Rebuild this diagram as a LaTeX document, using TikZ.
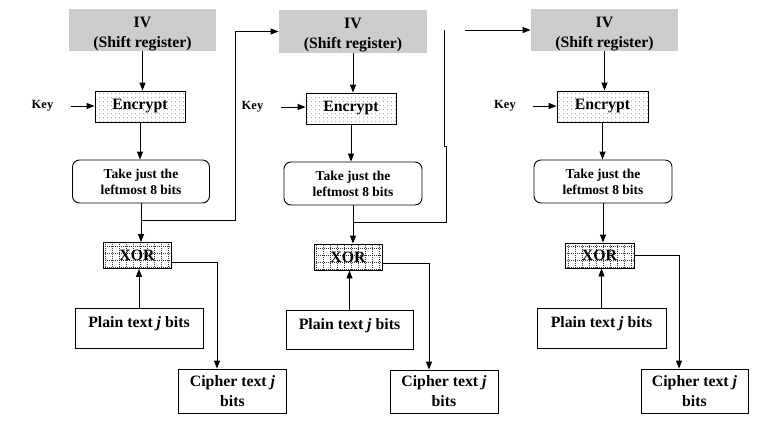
\documentclass[tikz,border=0pt]{standalone}
\usepackage{fontspec}
\setmainfont{Liberation Serif}
\usetikzlibrary{arrows.meta,patterns.meta}
\begin{document}
\begin{tikzpicture}[x=1pt,y=-1pt,
  line width=0.9pt,
  arr/.style={-{Triangle[length=8pt,width=6pt]}},
  ivbox/.style={draw=none,fill=gray!40,minimum width=147pt,minimum height=42pt,inner sep=0pt},
  ivtext/.style={align=center,font=\fontsize{15.8}{20}\selectfont\bfseries,inner sep=0pt},
  encbox/.style={draw,minimum width=90pt,minimum height=31pt,inner sep=0pt,
    pattern={Dots[distance=4pt,radius=0.45pt]},pattern color=black!80,
    font=\fontsize{15.8}{18}\selectfont\bfseries},
  takebox/.style={draw,rounded corners=7pt,minimum width=137pt,minimum height=43pt,inner sep=0pt,
    align=center,font=\fontsize{13.5}{16}\selectfont\bfseries},
  xorbox/.style={draw,minimum width=68pt,minimum height=26pt,inner sep=0pt,
    font=\fontsize{15.8}{18}\selectfont\bfseries,
    path picture={\draw[line width=0.5pt,dash pattern=on 0.6pt off 1.4pt,black!80] (path picture bounding box.south west) grid[step=7pt] (path picture bounding box.north east);}},
  plainbox/.style={draw,minimum width=128pt,minimum height=40pt,inner sep=0pt},
  plaintext/.style={inner sep=0pt,font=\fontsize{15.8}{18}\selectfont\bfseries},
  cipherbox/.style={draw,minimum width=108pt,minimum height=44pt,inner sep=0pt,
    align=center,font=\fontsize{15.8}{20}\selectfont\bfseries},
  keytext/.style={inner sep=0pt,font=\fontsize{12.5}{14}\selectfont\bfseries}
]
\useasboundingbox (0,0) rectangle (758,429);

% ---------- column 1
\node[ivbox,label={[ivtext,yshift=-4pt]center:IV\\(Shift register)}] (iv1) at (142.5,30) {};
\node[encbox] (enc1) at (140,106.5) {Encrypt};
\node[keytext] (key1) at (42.5,106) {Key};
\node[takebox] (take1) at (141,181.5) {Take just the\\leftmost 8 bits};
\node[xorbox] (xor1) at (137,255.5) {XOR};
\node[plainbox,label={[plaintext,yshift=4pt]center:Plain text \textit{j} bits}] (plain1) at (139,328) {};
\node[cipherbox] (cipher1) at (232.5,391) {Cipher text \textit{j}\\bits};

% ---------- column 2
\node[ivbox,minimum width=148pt,minimum height=43pt,label={[ivtext,yshift=-4pt]center:IV\\(Shift register)}] (iv2) at (353,31.5) {};
\node[encbox] (enc2) at (351,108.5) {Encrypt};
\node[keytext] (key2) at (252.5,107) {Key};
\node[takebox,minimum width=138pt] (take2) at (353,183.5) {Take just the\\leftmost 8 bits};
\node[xorbox] (xor2) at (348,257) {XOR};
\node[plainbox,minimum width=127pt,minimum height=39pt,label={[plaintext,yshift=4pt]center:Plain text \textit{j} bits}] (plain2) at (349.5,329.5) {};
\node[cipherbox,minimum height=43pt] (cipher2) at (444,391.5) {Cipher text \textit{j}\\bits};

% ---------- column 3
\node[ivbox,label={[ivtext,yshift=-4pt]center:IV\\(Shift register)}] (iv3) at (604.5,30) {};
\node[encbox,minimum width=91pt] (enc3) at (602.5,106.5) {Encrypt};
\node[keytext] (key3) at (505,106) {Key};
\node[takebox,minimum width=138pt] (take3) at (603,181.5) {Take just the\\leftmost 8 bits};
\node[xorbox,minimum width=69pt,minimum height=25pt] (xor3) at (599.5,255.5) {XOR};
\node[plainbox,minimum width=129pt,label={[plaintext,yshift=4pt]center:Plain text \textit{j} bits}] (plain3) at (601.5,328) {};
\node[cipherbox,minimum width=107pt] (cipher3) at (694.5,391) {Cipher text \textit{j}\\bits};

% ---------- vertical flow
\foreach \i in {1,2,3}{
  \draw[arr] (iv\i.south) -- (iv\i.south |- enc\i.north);
  \draw[arr] (enc\i.south) -- (enc\i.south |- take\i.north);
  \draw[arr] (take\i.south) -- (take\i.south |- xor\i.north);
  \draw[arr] (plain\i.north) -- (plain\i.north |- xor\i.south);
  \draw[arr] ([xshift=17pt]key\i.east) -- (key\i -| enc\i.west);
}

% ---------- outputs to cipher text
\draw[arr] ([yshift=-6.5pt]xor1.east) -| ([xshift=-15.5pt]cipher1.north);
\draw[arr] ([yshift=-6pt]xor2.east) -| ([xshift=-15pt]cipher2.north);
\draw[arr] (xor3.east) -| ([xshift=-15.5pt]cipher3.north);

% ---------- feedback connectors
\coordinate (j1) at (take1.south |- 0,220);
\coordinate (fb1) at (235,220);
\draw[arr] (j1) -- (fb1) |- (iv2.west);

\coordinate (j2) at (take2.south |- 0,222);
\coordinate (fb2a) at (446,222);
\coordinate (fb2b) at (446,146);
\coordinate (fb2c) at (444,146);
\coordinate (fb2d) at (444,30);
\draw (j2) -- (fb2a) -- (fb2b) -- (fb2c) -- (fb2d);
\coordinate (fb3) at (465,30);
\draw[arr] (fb3) -- (iv3.west);
\end{tikzpicture}
\end{document}
